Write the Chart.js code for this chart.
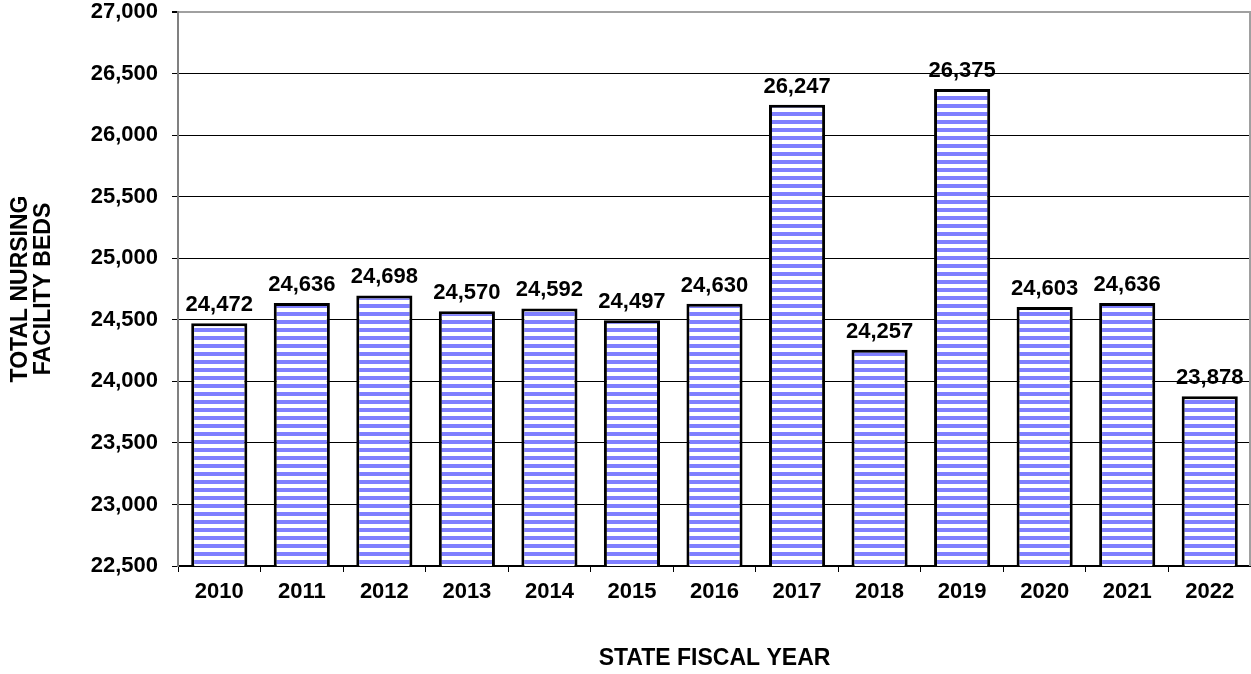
<!DOCTYPE html>
<html>
<head>
<meta charset="utf-8">
<script src="https://cdn.jsdelivr.net/npm/chart.js@4"></script>
<style>
html,body{margin:0;padding:0;background:#fff;}
canvas{display:block;}
</style>
</head>
<body>
<canvas id="c" width="1251" height="674"></canvas>
<script>
const categories = ['2010','2011','2012','2013','2014','2015','2016','2017','2018','2019','2020','2021','2022'];
const bedValues = [24472,24636,24698,24570,24592,24497,24630,26247,24257,26375,24603,24636,23878];
const yTickMin = 22500;
const yTickMax = 27000;
const yTickStep = 500;
const yTitleLines = ['TOTAL NURSING','FACILITY BEDS'];
const xTitle = 'STATE FISCAL YEAR';

const FONT = 'Liberation Sans, Arial, sans-serif';
const fmt = v => v.toLocaleString('en-US');

// striped fill pattern
const pc = document.createElement('canvas');
pc.width = 8; pc.height = 8;
const pctx = pc.getContext('2d');
pctx.fillStyle = '#ffffff'; pctx.fillRect(0,0,8,8);
pctx.fillStyle = '#8080ff'; pctx.fillRect(0,0,8,4);
const ctx = document.getElementById('c').getContext('2d');
const stripe = ctx.createPattern(pc, 'repeat');

const labelPlugin = {
  id: 'barLabels',
  afterDatasetsDraw(chart) {
    const c = chart.ctx;
    const meta = chart.getDatasetMeta(0);
    c.save();
    c.font = 'bold 22px ' + FONT;
    c.fillStyle = '#000';
    c.textAlign = 'center';
    c.textBaseline = 'alphabetic';
    meta.data.forEach((el, i) => {
      c.fillText(fmt(chart.data.datasets[0].data[i]), el.x, el.y - 12);
    });
    c.restore();
  },
  afterDraw(chart) {
    const a = chart.chartArea, c = chart.ctx;
    c.save();
    c.strokeStyle = '#a0a0a0';
    c.lineWidth = 2;
    c.beginPath();
    c.moveTo(a.right - 1, a.top);
    c.lineTo(a.right - 1, a.bottom);
    c.stroke();
    c.restore();
  }
};

new Chart(ctx, {
  type: 'bar',
  data: {
    labels: categories,
    datasets: [{
      data: bedValues,
      backgroundColor: stripe,
      borderColor: '#000',
      borderWidth: 3,
      borderSkipped: false,
      barPercentage: 0.68,
      categoryPercentage: 1.0
    }]
  },
  options: {
    responsive: false,
    devicePixelRatio: 1,
    animation: false,
    layout: { padding: { top: 12, right: 0, left: 0, bottom: 0 } },
    plugins: { legend: { display: false }, tooltip: { enabled: false } },
    scales: {
      x: {
        afterFit(s) { s.height = 108; s.paddingLeft = 0; s.paddingRight = 0; },
        grid: { offset: true, drawOnChartArea: false, tickLength: 6, color: '#000', lineWidth: 1 },
        border: { color: '#000', width: 2 },
        ticks: { color: '#000', font: { family: FONT, size: 22, weight: 'bold' }, padding: 7, maxRotation: 0 },
        title: { display: true, text: xTitle, color: '#000', font: { family: FONT, size: 23, weight: 'bold' }, padding: { top: 0, bottom: 2 } }
      },
      y: {
        min: yTickMin, max: yTickMax,
        afterFit(s) { s.width = 178; s.paddingTop = 0; s.paddingBottom = 0; },
        grid: {
          color: ctx => (ctx.tick && ctx.tick.value === yTickMax) ? '#a0a0a0' : '#000',
          lineWidth: ctx => (ctx.tick && ctx.tick.value === yTickMax) ? 2 : 1,
          tickLength: 6,
          tickColor: '#000'
        },
        border: { color: '#808080', width: 2 },
        ticks: { stepSize: yTickStep, color: '#000', font: { family: FONT, size: 22, weight: 'bold' }, padding: 14, callback: v => fmt(v) },
        title: { display: true, text: yTitleLines, color: '#000', font: { family: FONT, size: 23, weight: 'bold', lineHeight: 1.0 }, padding: { top: 9, bottom: 0 } }
      }
    }
  },
  plugins: [labelPlugin]
});
</script>
</body>
</html>
